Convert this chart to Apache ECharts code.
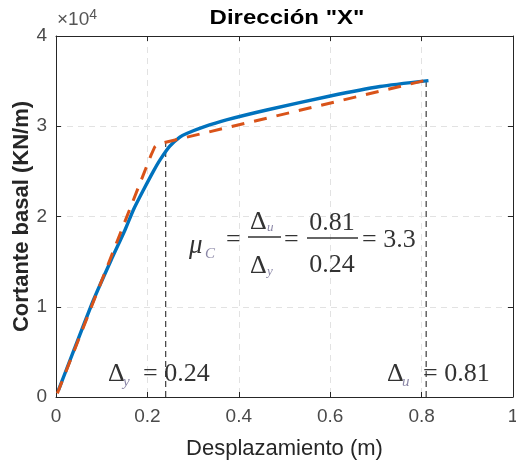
<!DOCTYPE html>
<html>
<head>
<meta charset="utf-8">
<script src="https://cdn.jsdelivr.net/npm/echarts@6/dist/echarts.min.js"></script>
<style>
  html, body { margin: 0; padding: 0; background: #fff; }
  #chart { width: 516px; height: 466px; }
</style>
</head>
<body>
<div id="chart"></div>
<script>
// Pushover capacity curve (displacement in m, base shear in KN/m)
const capacityDisp  = [0.005, 0.04, 0.082, 0.12, 0.151, 0.169, 0.191, 0.213, 0.228, 0.249, 0.271, 0.286, 0.322, 0.373, 0.461, 0.6, 0.709, 0.815];
const capacityShear = [700, 5300, 10750, 15100, 18500, 20700, 22900, 25000, 26300, 27800, 28800, 29200, 29900, 30700, 31800, 33350, 34400, 35050];

// Idealized bilinear curve
const bilinearDisp  = [0.003, 0.208, 0.216, 0.225, 0.81];
const bilinearShear = [400, 26800, 27700, 28050, 35100];

// Yield and ultimate displacements, ductility
const yieldDisp = 0.24;
const yieldShear = 28200;
const ultimateDisp = 0.81;
const ultimateShear = 35050;
const ductility = 3.3;

const xTickValues = [0, 0.2, 0.4, 0.6, 0.8, 1];
const yTickValues = [0, 1, 2, 3, 4];
const yScale = 1e4;

const pairs = (xs, ys) => xs.map((x, i) => [x, ys[i]]);

const sans = 'Liberation Sans';
const serif = 'Liberation Serif';
const ink = '#333';
const subInk = '#8a86a6';

const chart = echarts.init(document.getElementById('chart'), null, { renderer: 'canvas' });

const frameAxisBase = {
  type: 'value',
  axisLine: { show: true, onZero: false, lineStyle: { color: '#262626', width: 1 } },
  axisTick: { show: true, inside: true, length: 5, lineStyle: { color: '#262626' } },
  axisLabel: { show: false },
  splitLine: { show: false }
};

const txt = (x, y, text, font, fill, align) => ({
  type: 'text', x, y, z: 100,
  style: { text, font, fill, align: align || 'left', textAlign: align || 'left', verticalAlign: 'middle', textVerticalAlign: 'middle' }
});
const bar = (x1, x2, y) => ({
  type: 'line', z: 100,
  shape: { x1, y1: y, x2, y2: y },
  style: { stroke: ink, lineWidth: 1.5 }
});

const big = '26px ' + serif;
const sub = 'italic 15px ' + serif;

chart.setOption({
  animation: false,
  backgroundColor: '#fff',
  grid: { left: 56, right: 3, top: 36, bottom: 69, containLabel: false, outerBoundsMode: 'none' },
  xAxis: [
    {
      type: 'value', min: 0, max: 1, interval: 0.2,
      name: 'Desplazamiento (m)', nameLocation: 'middle', nameGap: 41, nameMoveOverlap: false,
      nameTextStyle: { fontFamily: sans, fontSize: 22, color: '#262626' },
      axisLine: { show: true, onZero: false, lineStyle: { color: '#262626', width: 1 } },
      axisTick: { show: true, inside: true, length: 5, lineStyle: { color: '#262626' } },
      axisLabel: {
        fontFamily: sans, fontSize: 19, color: '#4a4a4a', margin: 10,
        formatter: v => (xTickValues.some(t => Math.abs(t - v) < 1e-9) ? String(+v.toFixed(1)) : '')
      },
      splitLine: { show: true, lineStyle: { color: '#e2e2e2', type: [6, 5], width: 1 } }
    },
    Object.assign({}, frameAxisBase, { position: 'top', min: 0, max: 1, interval: 0.2 })
  ],
  yAxis: [
    {
      type: 'value', min: 0, max: 40000, interval: 10000,
      name: 'Cortante basal (KN/m)', nameLocation: 'middle', nameGap: 23, nameMoveOverlap: false,
      nameTextStyle: { fontFamily: sans, fontSize: 22, fontWeight: 'bold', color: '#262626' },
      axisLine: { show: true, onZero: false, lineStyle: { color: '#262626', width: 1 } },
      axisTick: { show: true, inside: true, length: 5, lineStyle: { color: '#262626' } },
      axisLabel: {
        fontFamily: sans, fontSize: 19, color: '#4a4a4a', margin: 9,
        formatter: v => String(yTickValues[Math.round(v / yScale)])
      },
      splitLine: { show: true, lineStyle: { color: '#e2e2e2', type: [6, 5], width: 1 } }
    },
    Object.assign({}, frameAxisBase, { position: 'right', min: 0, max: 40000, interval: 10000 })
  ],
  series: [
    {
      name: 'yield', type: 'line', symbol: 'none', silent: true, z: 2,
      data: [[yieldDisp, 0], [yieldDisp, yieldShear]],
      lineStyle: { color: '#3c3c3c', width: 1.2, type: [6, 4] }
    },
    {
      name: 'ultimate', type: 'line', symbol: 'none', silent: true, z: 2,
      data: [[ultimateDisp, 0], [ultimateDisp, ultimateShear]],
      lineStyle: { color: '#3c3c3c', width: 1.2, type: [6, 4] }
    },
    {
      name: 'capacity', type: 'line', symbol: 'none', z: 3,
      smooth: 0.2,
      data: pairs(capacityDisp, capacityShear),
      lineStyle: { color: '#0072BD', width: 3.4 }
    },
    {
      name: 'bilinear', type: 'line', symbol: 'none', z: 4,
      data: pairs(bilinearDisp, bilinearShear),
      lineStyle: { color: '#D95319', width: 3, type: [13, 10] }
    }
  ],
  graphic: [
    // title
    Object.assign(txt(287, 18, 'Dirección "X"', 'bold 20px ' + sans, '#000', 'center'), { scaleX: 1.2 }),
    // axis exponent
    {
      type: 'text', x: 57, y: 20, z: 100,
      style: {
        text: '×10{s|4}', font: '19px ' + sans, fill: '#555', verticalAlign: 'middle', textVerticalAlign: 'middle',
        rich: { s: { fontFamily: sans, fontSize: 14, fill: '#555', verticalAlign: 'top', padding: [0, 0, 10, 0] } }
      }
    },
    // yield displacement label
    txt(108, 374, 'Δ', big, ink),
    txt(123, 382, 'y', sub, subInk),
    txt(143, 374, '= ' + yieldDisp.toFixed(2), big, ink),
    // ultimate displacement label
    txt(387, 374, 'Δ', big, ink),
    txt(402, 382, 'u', sub, subInk),
    txt(423, 374, '= ' + ultimateDisp.toFixed(2), big, ink),
    // ductility formula
    txt(189, 246, 'μ', 'italic 27px ' + serif, ink),
    txt(205, 254, 'C', sub, subInk),
    txt(226, 240, '=', big, ink),
    txt(250, 222, 'Δ', big, ink),
    txt(267, 228, 'u', 'italic 13px ' + serif, subInk),
    bar(248, 281, 237),
    txt(250, 266, 'Δ', big, ink),
    txt(267, 272, 'y', 'italic 13px ' + serif, subInk),
    txt(284, 240, '=', big, ink),
    txt(332, 223, ultimateDisp.toFixed(2), big, ink, 'center'),
    bar(307, 358, 238),
    txt(332, 265, yieldDisp.toFixed(2), big, ink, 'center'),
    txt(362, 240, '= ' + ductility.toFixed(1), big, ink)
  ]
});
</script>
</body>
</html>
